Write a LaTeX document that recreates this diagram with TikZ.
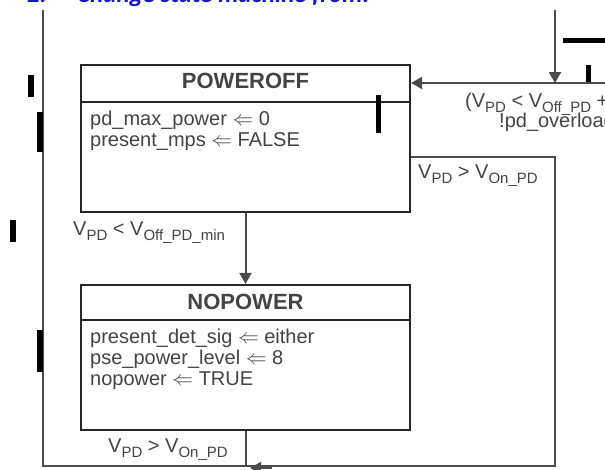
\documentclass[tikz,border=0pt]{standalone}
\usepackage{fontspec}
\setmainfont{Liberation Sans}
\newfontfamily\hdfont{Carlito}
\usetikzlibrary{arrows.meta}
\definecolor{txt}{HTML}{444444}
\definecolor{boxc}{HTML}{262626}
\definecolor{wirec}{HTML}{4A4A4A}
\definecolor{hdblue}{HTML}{1010F0}
\newcommand{\sbx}[1]{\raisebox{-0.25em}{\fontsize{15}{15}\selectfont #1}}
\newcommand{\lar}{$\Leftarrow$}
\begin{document}
\begin{tikzpicture}[x=1pt,y=-1pt,
  state/.style={draw=boxc, line width=2.2pt, minimum width=329pt, inner sep=0pt},
  ttl/.style={font=\fontsize{22}{22}\selectfont\bfseries, text=txt, inner sep=0pt, anchor=base},
  body/.style={font=\fontsize{20}{20}\selectfont, text=txt, inner sep=0pt, anchor=base west},
  lbl/.style={font=\fontsize{20}{20}\selectfont, text=txt, inner sep=0pt, anchor=base west},
  wire/.style={draw=wirec, line width=2pt},
  arr/.style={-{Triangle[width=12pt,length=11pt]}},
  bar/.style={fill=black},
  hd/.style={font=\hdfont\fontsize{25}{25}\selectfont\bfseries\itshape, text=hdblue, inner sep=0pt, anchor=base west}
]
\useasboundingbox (0,0) rectangle (605,469);
\clip (0,0) rectangle (605,469);
\fill[white] (0,0) rectangle (605,469);

% heading (cropped at the top)
\node[hd] (hdnum) at (27,2) {2.};
\node[hd] (hdtext) at (77,2) {Change state machine from:};

% states
\node[state, minimum height=147pt] (poweroff) at (245.5,138.5) {};
\draw[boxc, line width=2.2pt] (poweroff.west |- 0,102) -- (poweroff.east |- 0,102);
\node[ttl] (t1) at (245.5,88) {POWEROFF};
\node[body] (b11) at (90,125) {pd\_max\_power \lar{} 0};
\node[body] (b12) at (90,146) {present\_mps \lar{} FALSE};

\node[state, minimum height=145pt] (nopower) at (245.5,357.5) {};
\draw[boxc, line width=2.2pt] (nopower.west |- 0,320) -- (nopower.east |- 0,320);
\node[ttl] (t2) at (245.5,309) {NOPOWER};
\node[body] (b21) at (90,343) {present\_det\_sig \lar{} either};
\node[body] (b22) at (90,364) {pse\_power\_level \lar{} 8};
\node[body] (b23) at (90,385) {nopower \lar{} TRUE};

% transitions
\draw[wire, arr] (poweroff.south) -- (nopower.north);
\node[lbl] (l1) at (73,235) {V\sbx{PD} < V\sbx{Off\_PD\_min}};

\coordinate (topin) at (555,10);
\coordinate (tj) at (555,83);
\coordinate (rin) at (612,83);
\draw[wire, arr] (topin) -- (tj);
\draw[wire, arr] (rin) -- (rin -| poweroff.east);
\node[lbl] (l2) at (465,107) {(V\sbx{PD} < V\sbx{Off\_PD} +};
\node[lbl] (l3) at (499,127) {!pd\_overload};

\coordinate (c1) at (555,157);
\coordinate (c2) at (555,466);
\coordinate (c3) at (43,466);
\coordinate (c4) at (43,10);
\draw[wire] (c1 -| poweroff.east) -- (c1) -- (c2) -- (c3) -- (c4);
\node[lbl] (l4) at (418,178) {V\sbx{PD} > V\sbx{On\_PD}};

\draw[wire] (nopower.south) -- (nopower.south |- c3);
\node[lbl] (l5) at (108,452) {V\sbx{PD} > V\sbx{On\_PD}};
\coordinate (bt1) at (272,468);
\coordinate (bt2) at (250,468);
\draw[wire, arr] (bt1) -- (bt2);

% black marks
\fill[bar] (28,75) rectangle (34,97);
\fill[bar] (37,112) rectangle (43,152);
\fill[bar] (10,220) rectangle (16,242);
\fill[bar] (37,330) rectangle (43,372);
\fill[bar] (376,95) rectangle (381,133);
\fill[bar] (586,65) rectangle (591,82);
\fill[bar] (563,38) rectangle (605,43);
\end{tikzpicture}
\end{document}
